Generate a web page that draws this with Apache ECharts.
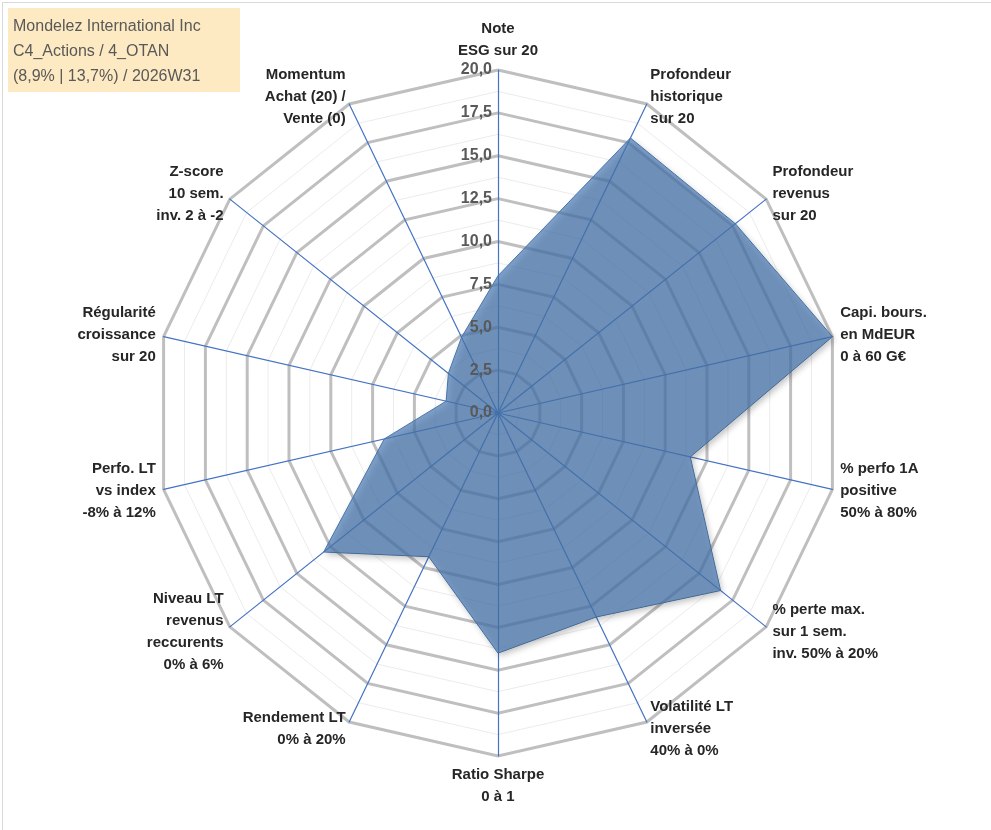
<!DOCTYPE html>
<html>
<head>
<meta charset="utf-8">
<script src="https://cdn.jsdelivr.net/npm/echarts@6/dist/echarts.min.js"></script>
<style>html,body{margin:0;padding:0;background:#fff}#main{width:991px;height:830px}</style>
</head>
<body>
<div id="main"></div>
<script>
// axes listed clockwise from the top
var axisNames = [
  'Note\nESG sur 20',
  'Profondeur\nhistorique\nsur 20',
  'Profondeur\nrevenus\nsur 20',
  'Capi. bours.\nen MdEUR\n0 à 60 G€',
  '% perfo 1A\npositive\n50% à 80%',
  '% perte max.\nsur 1 sem.\ninv. 50% à 20%',
  'Volatilité LT\ninversée\n40% à 0%',
  'Ratio Sharpe\n0 à 1',
  'Rendement LT\n0% à 20%',
  'Niveau LT\nrevenus\nreccurents\n0% à 6%',
  'Perfo. LT\nvs index\n-8% à 12%',
  'Régularité\ncroissance\nsur 20',
  'Z-score\n10 sem.\ninv. 2 à -2',
  'Momentum\nAchat (20) /\nVente (0)'
];
var scores = [8.0, 17.8, 17.7, 20.0, 11.5, 16.6, 13.2, 14.0, 9.3, 13.0, 6.8, 3.1, 3.7, 4.9];
var maxScore = 20;
var tickStep = 2.5;
var titleLines = ['Mondelez International Inc', 'C4_Actions / 4_OTAN', '(8,9% | 13,7%) / 2026W31'];

// ECharts draws radar indicators counter-clockwise, so keep the first one and reverse the rest
function ccw(arr) { return [arr[0]].concat(arr.slice(1).reverse()); }

var names = ccw(axisNames);
var values = ccw(scores);
var indicator = names.map(function (n) { return { name: n, max: maxScore, min: 0 }; });

var center = [498, 413];
var radius = 343;

var myChart = echarts.init(document.getElementById('main'));
var option = {
  backgroundColor: '#fff',
  graphic: [
    { type: 'rect', left: 0, top: 0, shape: { width: 989, height: 828 },
      style: { fill: 'none', stroke: '#d9d9d9', lineWidth: 1 } },
    { type: 'rect', left: 8, top: 8, z: 10, shape: { width: 232, height: 84 },
      style: { fill: '#fde9c2' } },
    { type: 'text', left: 13, top: 14, z: 11,
      style: { text: titleLines.join('\n'), font: '16px "Liberation Sans", Arial', fill: '#595959', lineHeight: 25 } }
  ],
  polar: { center: center, radius: radius },
  angleAxis: { startAngle: 90, show: false, min: 0, max: 360 },
  radiusAxis: {
    min: 0, max: maxScore, interval: tickStep,
    axisLine: { show: false }, axisTick: { show: false }, splitLine: { show: false },
    axisLabel: { color: '#595959', fontWeight: 'bold', fontSize: 16, fontFamily: 'Liberation Sans',
      formatter: function (v) { return v.toFixed(1).replace('.', ','); }, margin: 6 },
    z: 20
  },
  radar: [{
    center: center, radius: radius, shape: 'polygon', splitNumber: 16,
    indicator: indicator,
    axisName: { show: false },
    splitArea: { show: false },
    splitLine: { lineStyle: { color: '#ececec', width: 1 } },
    axisLine: { show: false }
  }, {
    center: center, radius: radius, shape: 'polygon', splitNumber: 8,
    indicator: indicator,
    nameGap: 8,
    axisName: { color: '#262626', fontWeight: 'bold', fontSize: 15, fontFamily: 'Liberation Sans', lineHeight: 22 },
    splitArea: { show: false },
    splitLine: { lineStyle: { color: '#bfbfbf', width: 3 } },
    axisLine: { lineStyle: { color: '#4472c4', width: 1.2 } }
  }],
  series: [{
    type: 'radar', radarIndex: 1, z: 5,
    symbol: 'none',
    lineStyle: { color: '#4a78b0', width: 1 },
    areaStyle: { color: '#4a7ab3', opacity: 0.7, shadowColor: 'rgba(0,0,0,0.35)', shadowBlur: 6, shadowOffsetX: 2, shadowOffsetY: 3 },
    data: [{ value: values }]
  }]
};
myChart.setOption(option);
</script>
</body>
</html>
